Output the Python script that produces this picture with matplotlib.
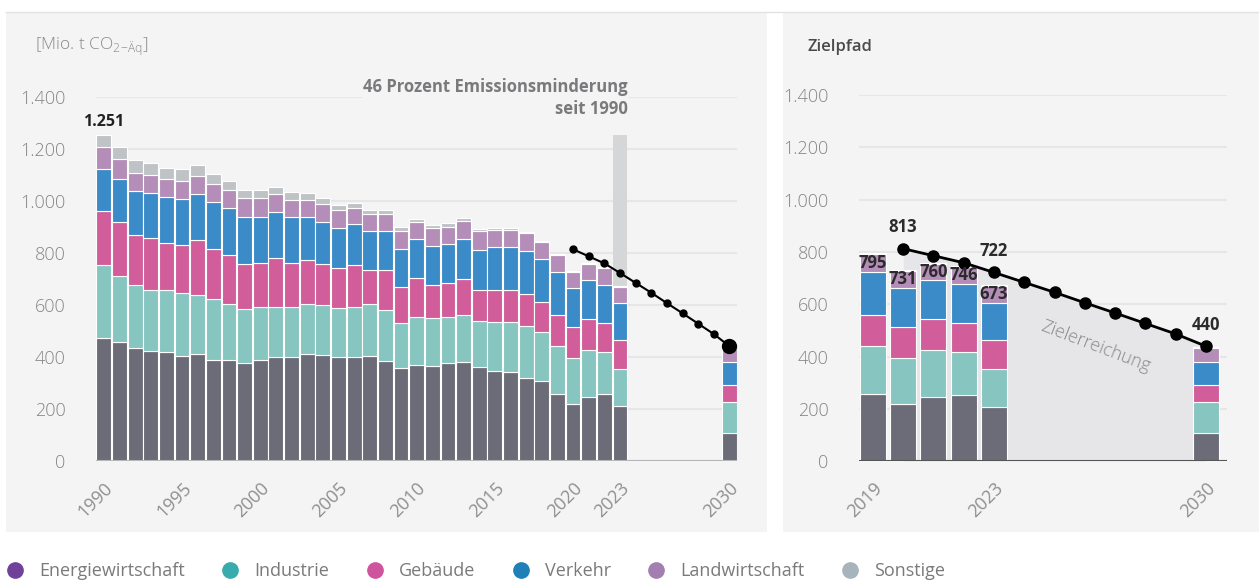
import numpy as np
import matplotlib
matplotlib.use('Agg')
import matplotlib.pyplot as plt
from matplotlib.patches import Rectangle
from matplotlib.lines import Line2D

plt.rcParams['font.family'] = ['Open Sans', 'DejaVu Sans']

# Emissions by sector, Mio. t CO2-Aeq
years = list(range(1990, 2024))
energie = [471, 457, 434, 422, 419, 403, 410, 388, 388, 375, 388, 398, 398, 411, 407, 398, 398, 402,
           383, 356, 368, 364, 375, 379, 360, 345, 341, 318, 306, 257, 218, 246, 255, 209]
industrie = [281, 253, 241, 234, 237, 242, 227, 234, 216, 208, 205, 192, 192, 191, 190, 189, 193, 199,
             196, 172, 185, 185, 178, 180, 176, 187, 191, 199, 189, 184, 176, 180, 163, 144]
gebaeude = [210, 210, 192, 199, 183, 186, 213, 194, 189, 173, 166, 191, 172, 169, 159, 153, 160, 132,
            154, 140, 149, 126, 129, 138, 120, 124, 124, 124, 116, 120, 121, 119, 112, 110]
verkehr = [160, 165, 172, 176, 177, 177, 176, 180, 180, 182, 179, 176, 176, 167, 163, 156, 158, 150,
           149, 148, 152, 152, 153, 157, 156, 165, 165, 164, 164, 164, 148, 149, 147, 144]
landwirtschaft = [85, 76, 69, 69, 69, 69, 70, 70, 70, 73, 73, 69, 65, 65, 69, 69, 63, 64,
                  68, 68, 65, 69, 65, 69, 71, 66, 66, 69, 65, 66, 64, 62, 64, 62]
sonstige = [44, 45, 48, 44, 41, 45, 41, 37, 32, 29, 29, 26, 30, 26, 22, 19, 20, 18,
            14, 15, 10, 10, 13, 10, 8, 8, 8, 5, 5, 4, 4, 4, 5, 4]

# sector targets 2030
target_year = 2030
target_2030 = [108, 118, 67, 85, 56, 4]

# Zielpfad (annual target path)
path_years = list(range(2020, 2031))
path_values = [813, 786, 759, 722, 684, 646, 606, 567, 527, 487, 440]

sectors = ['Energiewirtschaft', 'Industrie', 'Gebäude', 'Verkehr', 'Landwirtschaft', 'Sonstige']
bar_colors = ['#6b6c78', '#86c5c0', '#d15e9a', '#3a8bc8', '#b48db8', '#c0c3c6']
legend_colors = ['#6f4199', '#38abad', '#cf549e', '#1e80b6', '#a27fb0', '#a8b4bc']

series = [energie, industrie, gebaeude, verkehr, landwirtschaft, sonstige]
totals = np.sum(series, axis=0)

fig = plt.figure(figsize=(12.59, 5.81), dpi=100)
W, H = 1259, 581

# panel backgrounds
for x0, x1 in [(6, 767), (783, 1259)]:
    fig.patches.append(Rectangle((x0 / W, 1 - 532 / H), (x1 - x0) / W, (532 - 12) / H,
                                 transform=fig.transFigure, facecolor='#f4f4f4', edgecolor='none', zorder=-5))
fig.add_artist(Line2D([6 / W, 1], [1 - 11.5 / H] * 2, color='#e2e2e2', lw=1, zorder=-4))

ax1 = fig.add_axes([96 / W, 1 - 460.7 / H, 641.3 / W, 364 / H])
ax2 = fig.add_axes([859 / W, 1 - 461.2 / H, 368 / W, 366 / H])


def deu(v):
    return f'{v:,.0f}'.replace(',', '.')


def style(ax):
    ax.set_facecolor('none')
    ax.set_ylim(0, 1400)
    ax.set_yticks(range(0, 1401, 200))
    ax.set_yticklabels([deu(v) for v in range(0, 1401, 200)])
    ax.grid(axis='y', color='#e6e6e6', lw=1.5)
    ax.set_axisbelow(True)
    for s in ax.spines.values():
        s.set_visible(False)
    ax.tick_params(axis='y', length=0, pad=22, labelsize=13, labelcolor='#858585')
    ax.tick_params(axis='x', length=0, pad=13, labelsize=13, labelcolor='#8f8f8f')
    for lab in ax.get_yticklabels():
        lab.set_fontweight('light')


# ---------- left panel ----------
style(ax1)
ax1.set_xlim(1989.5, 2030.5)
bottom = np.zeros(len(years))
for vals, col in zip(series, bar_colors):
    ax1.bar(years, vals, bottom=bottom, width=0.95, color=col, edgecolor='white', linewidth=0.8, zorder=2)
    bottom += np.array(vals)
b = 0
for v, col in zip(target_2030, bar_colors):
    ax1.bar(target_year, v, bottom=b, width=0.95, color=col, edgecolor='white', linewidth=0.8, zorder=2)
    b += v
# reduction gap 2023 vs 1990
ax1.bar(years[-1], totals[0] - totals[-1], bottom=totals[-1], width=0.95, color='#d5d6d8',
        edgecolor='none', zorder=1)
ax1.axhline(0, color='#b5b5b8', lw=1.5, zorder=3)
ax1.plot(path_years, path_values, color='black', lw=1.5, marker='o', ms=5, zorder=4)
ax1.plot(path_years[-1], path_values[-1], 'o', color='black', ms=10, zorder=5)
ax1.annotate(deu(totals[0]), (years[0], totals[0]), xytext=(0, 4), textcoords='offset points',
             ha='center', va='bottom', fontsize=11.5, fontweight='bold', color='#222222')
ax1.text(years[-1] + 0.5, 1318, '46 Prozent Emissionsminderung\nseit 1990', ha='right', va='bottom',
         fontsize=12, fontweight='bold', color='#7a7a7d', linespacing=1.3, zorder=6,
         bbox=dict(facecolor='#f4f4f4', edgecolor='none', pad=1))
xt1 = [1990, 1995, 2000, 2005, 2010, 2015, 2020, 2023, 2030]
ax1.set_xticks(xt1)
ax1.set_xticklabels([str(y) for y in xt1], rotation=45, ha='right', va='top', rotation_mode='anchor')

# ---------- right panel ----------
style(ax2)
ax2.set_xlim(2018.54, 2030.7)
sel = [years.index(y) for y in range(2019, 2024)]
yrs2 = [years[i] for i in sel]
bottom = np.zeros(len(sel))
for vals, col in zip(series, bar_colors):
    v2 = np.array([vals[i] for i in sel])
    ax2.bar(yrs2, v2, bottom=bottom, width=0.86, color=col, edgecolor='white', linewidth=0.8, zorder=2)
    bottom += v2
b = 0
for v, col in zip(target_2030, bar_colors):
    ax2.bar(target_year, v, bottom=b, width=0.86, color=col, edgecolor='white', linewidth=0.8, zorder=2)
    b += v
ax2.fill_between(path_years, 0, path_values, color='#e6e6e9', lw=0, zorder=1)
ax2.axhline(0, color='#555555', lw=1.5, zorder=3)
ax2.plot(path_years, path_values, color='black', lw=2, marker='o', ms=8, zorder=4)
for y, t in zip(yrs2, bottom):
    ax2.text(y, t - 35, deu(t), ha='center', va='center', fontsize=12, fontweight='bold',
             color='#2b2b2b', zorder=5)
for y in (2020, 2023, 2030):
    v = path_values[path_years.index(y)]
    ax2.annotate(deu(v), (y, v), xytext=(0, 9), textcoords='offset points', ha='center', va='bottom',
                 fontsize=12, fontweight='bold', color='#2b2b2b')
ax2.text(2026.35, 438, 'Zielerreichung', rotation=-21, ha='center', va='center', fontsize=13,
         color='#8a8a8a', fontweight='light')
xt2 = [2019, 2023, 2030]
ax2.set_xticks(xt2)
ax2.set_xticklabels([str(y) for y in xt2], rotation=45, ha='right', va='top', rotation_mode='anchor')

# titles
fig.text(35 / W, 1 - 47 / H, r'[Mio. t CO$_{\mathregular{2\!-\!Äq}}$]', fontsize=12.5, color='#8a8a8a',
         va='center', ha='left', fontweight='light')
fig.text(808 / W, 1 - 47 / H, 'Zielpfad', fontsize=12, color='#4a4a4a', va='center', ha='left',
         fontweight='semibold')

# legend
handles = [Line2D([], [], marker='o', ls='none', ms=11, color=c) for c in legend_colors]
fig.legend(handles, sectors, loc='center left', bbox_to_anchor=(7.8 / W, 10 / H), ncol=6,
           frameon=False, fontsize=13, handlelength=0.8, handletextpad=0.95, columnspacing=2.1,
           borderpad=0, borderaxespad=0, labelcolor='#7a7a7a')

fig.savefig('out.png', dpi=100)
